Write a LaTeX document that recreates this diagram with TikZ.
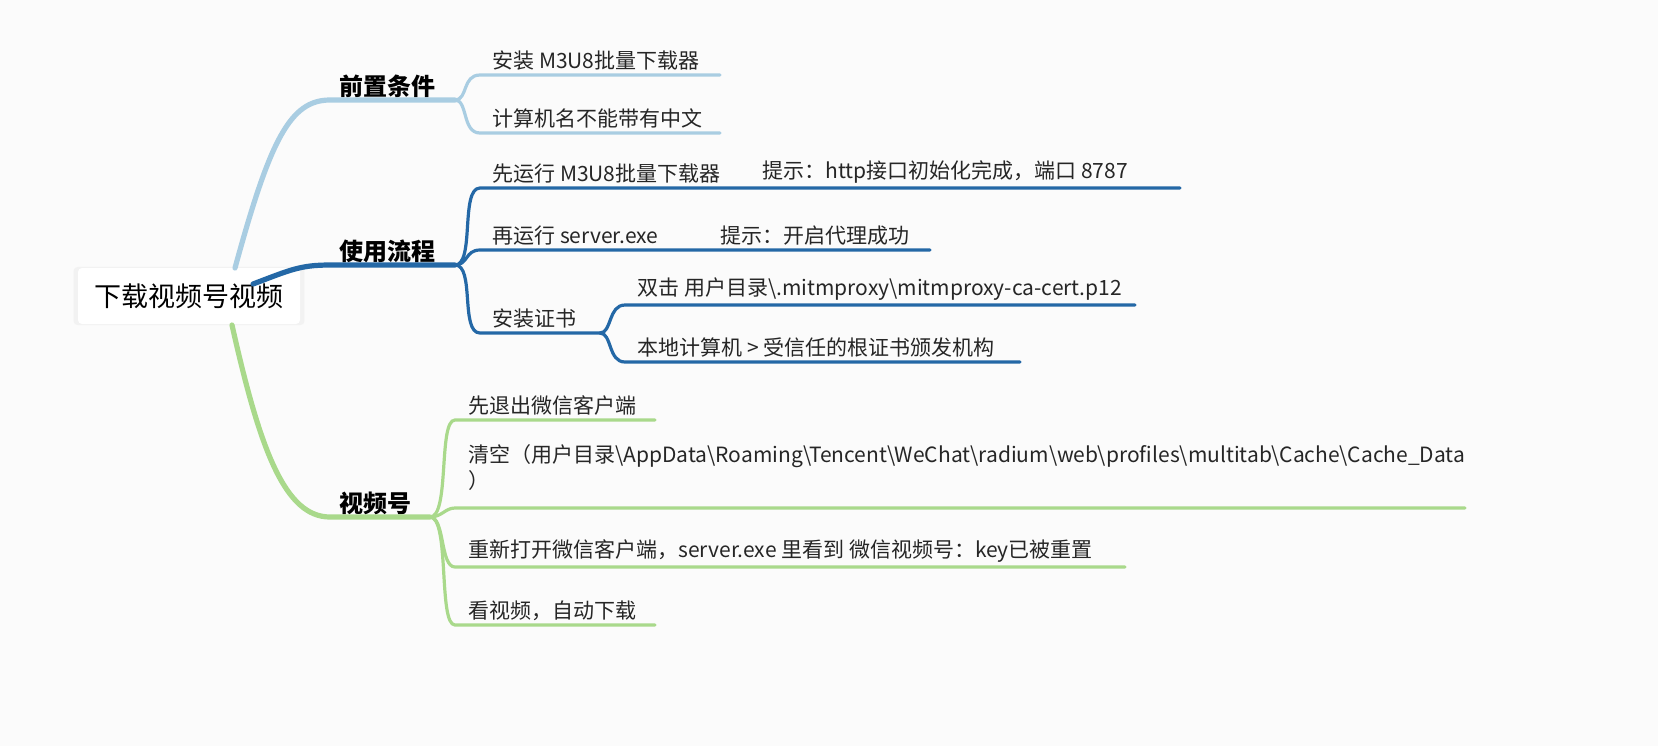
\documentclass[tikz,border=0pt]{standalone}
\usepackage{fontspec}
\setmainfont{Noto Sans CJK SC}
\usetikzlibrary{shadows}
\definecolor{preblue}{HTML}{A9CDE2}
\definecolor{useblue}{HTML}{2468A6}
\definecolor{chgreen}{HTML}{A9D98B}
\tikzset{
  leaf/.style={anchor=south west, inner sep=1pt, font=\fontsize{10.5}{13}\selectfont, text=black!85},
  cat/.style={anchor=south west, inner sep=1pt, font=\fontsize{12}{14}\selectfont\bfseries},
  twig/.style={line width=1.6pt, line cap=round},
  limb/.style={line width=2.6pt, line cap=round}
}
\begin{document}
\begin{tikzpicture}[x=0.5pt,y=-0.5pt]
  \useasboundingbox[fill=black!1.5] (0,0) rectangle (1658,746);

  % root
  \node[fill=white, minimum width=111pt, minimum height=28pt, rounded corners=2pt,
        general shadow={fill=black!5, shadow xshift=0pt, shadow yshift=0pt, shadow scale=1.04},
        font=\fontsize{13.5}{16}\selectfont] (root) at (189,296) {下载视频号视频};

  % first branch
  \coordinate (preA) at (330,100);
  \coordinate (preB) at (455,100);
  \node[cat] (pre) at (337,100) {前置条件};
  \draw[preblue, limb] (235,268) .. controls (270,140) and (290,100) .. (preA) -- (preB);
  \coordinate (p1) at (480,75);   \coordinate (p1e) at (720,75);
  \coordinate (p2) at (480,133);  \coordinate (p2e) at (720,133);
  \node[leaf] (p1t) at (490,73) {安装 M3U8批量下载器};
  \node[leaf] (p2t) at (490,131) {计算机名不能带有中文};
  \draw[preblue, twig] (preB) .. controls (468,100) and (462,75) .. (p1) -- (p1e);
  \draw[preblue, twig] (preB) .. controls (468,100) and (462,133) .. (p2) -- (p2e);

  % second branch
  \coordinate (useA) at (330,265);
  \coordinate (useB) at (455,265);
  \node[cat] (use) at (337,265) {使用流程};
  \draw[useblue, limb] (253,284) .. controls (290,270) and (300,265) .. (useA) -- (useB);
  \coordinate (u1) at (480,188);  \coordinate (u1e) at (745,188);  \coordinate (u1f) at (1180,188);
  \coordinate (u2) at (480,250);  \coordinate (u2e) at (700,250);  \coordinate (u2f) at (930,250);
  \coordinate (u3) at (480,333);  \coordinate (u3e) at (600,333);
  \node[leaf] (u1t) at (490,186) {先运行 M3U8批量下载器};
  \node[leaf] (u1h) at (760,186) {提示：http接口初始化完成，端口 8787};
  \node[leaf] (u2t) at (490,248) {再运行 server.exe};
  \node[leaf] (u2h) at (718,248) {提示：开启代理成功};
  \node[leaf] (u3t) at (490,331) {安装证书};
  \draw[useblue, twig] (useB) .. controls (475,265) and (460,188) .. (u1) -- (u1e) -- (u1f);
  \draw[useblue, twig] (useB) .. controls (468,265) and (465,250) .. (u2) -- (u2e) -- (u2f);
  \draw[useblue, twig] (useB) .. controls (475,265) and (460,333) .. (u3) -- (u3e);
  \coordinate (c1) at (625,305);  \coordinate (c1e) at (1135,305);
  \coordinate (c2) at (625,362);  \coordinate (c2e) at (1020,362);
  \node[leaf] (c1t) at (635,303) {双击 用户目录\textbackslash.mitmproxy\textbackslash mitmproxy-ca-cert.p12};
  \node[leaf] (c2t) at (635,360) {本地计算机 > 受信任的根证书颁发机构};
  \draw[useblue, twig] (u3e) .. controls (612,333) and (608,305) .. (c1) -- (c1e);
  \draw[useblue, twig] (u3e) .. controls (612,333) and (608,362) .. (c2) -- (c2e);

  % third branch
  \coordinate (chA) at (330,517);
  \coordinate (chB) at (430,517);
  \node[cat] (chan) at (337,517) {视频号};
  \draw[chgreen, limb] (232,325) .. controls (260,450) and (285,517) .. (chA) -- (chB);
  \coordinate (g1) at (455,420);  \coordinate (g1e) at (655,420);
  \coordinate (g2) at (455,508);  \coordinate (g2e) at (1465,508);
  \coordinate (g3) at (455,567);  \coordinate (g3e) at (1125,567);
  \coordinate (g4) at (455,625);  \coordinate (g4e) at (655,625);
  \node[leaf] (g1t) at (466,418) {先退出微信客户端};
  \node[leaf, align=left, anchor=north west] (g2t) at (466,442)
    {清空（用户目录\textbackslash AppData\textbackslash Roaming\textbackslash Tencent\textbackslash WeChat\textbackslash radium\textbackslash web\textbackslash profiles\textbackslash multitab\textbackslash Cache\textbackslash Cache\_Data\\）};
  \node[leaf] (g3t) at (466,565) {重新打开微信客户端，server.exe 里看到 微信视频号：key已被重置};
  \node[leaf] (g4t) at (466,623) {看视频，自动下载};
  \draw[chgreen, twig] (chB) .. controls (450,517) and (438,420) .. (g1) -- (g1e);
  \draw[chgreen, twig] (chB) .. controls (442,517) and (445,508) .. (g2) -- (g2e);
  \draw[chgreen, twig] (chB) .. controls (445,517) and (440,567) .. (g3) -- (g3e);
  \draw[chgreen, twig] (chB) .. controls (450,517) and (438,625) .. (g4) -- (g4e);
\end{tikzpicture}
\end{document}
